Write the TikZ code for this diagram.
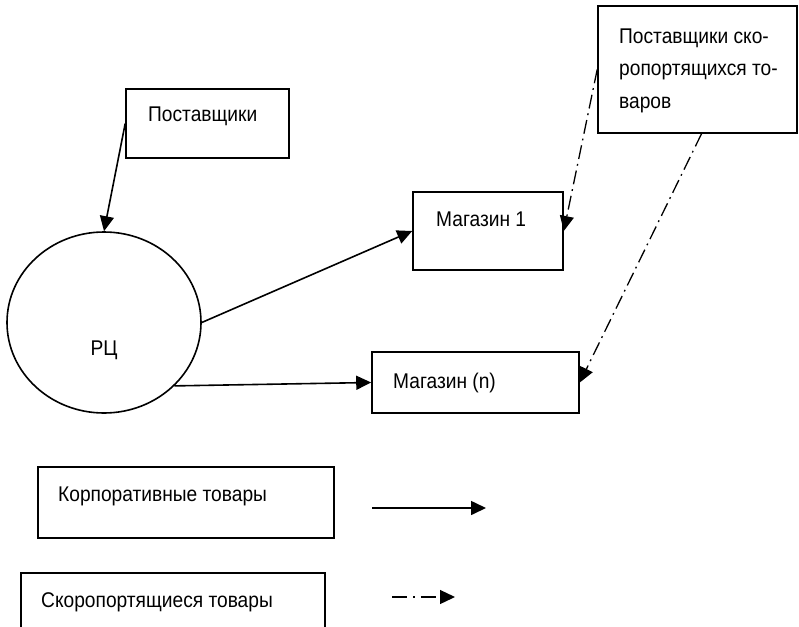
\documentclass[tikz,border=0pt]{standalone}
\usepackage{fontspec}
\setmainfont[FakeStretch=0.9]{Liberation Sans}
\usetikzlibrary{shapes.geometric,arrows.meta}
\tikzset{
  boxnode/.style={draw,rectangle,inner sep=0pt,line width=1.6pt},
  txt/.style={inner sep=0pt,anchor=base west,align=left,font=\fontsize{21.3}{32.5}\selectfont},
  solidarrow/.style={line width=1.6pt,-{Triangle[length=15pt,width=14pt]}},
  dasharrow/.style={line width=1.3pt,dash pattern=on 14pt off 5pt on 1.8pt off 5pt,-{Triangle[length=15pt,width=14pt]}},
}
\begin{document}
\begin{tikzpicture}[x=1pt,y=-1pt]
\useasboundingbox (0,0) rectangle (799,626);
% boxes
\node[boxnode,minimum width=163pt,minimum height=69pt] (sup) at (207.5,123.5) {};
\node[draw,ellipse,line width=1.6pt,inner sep=0pt,minimum width=194pt,minimum height=181pt] (rc) at (104,322.5) {};
\node[boxnode,minimum width=150pt,minimum height=78pt] (m1) at (488,231) {};
\node[boxnode,minimum width=207pt,minimum height=61pt] (mn) at (475.5,382.5) {};
\node[boxnode,minimum width=199pt,minimum height=127pt] (ps) at (697.5,69.5) {};
\node[boxnode,minimum width=296pt,minimum height=71pt] (lg1) at (186,502.5) {};
\node[boxnode,minimum width=304pt,minimum height=62pt] (lg2) at (173,604) {};
% texts
\node[txt] (tsup) at (148,121) {Поставщики};
\node[txt,anchor=base] (trc) at (104,355) {РЦ};
\node[txt] (tm1) at (436,226) {Магазин 1};
\node[txt] (tmn) at (393,388) {Магазин (n)};
\node[txt] (tps) at (619,108) {Поставщики ско-\\ропортящихся то-\\варов};
\node[txt] (tlg1) at (58,501) {Корпоративные товары};
\node[txt] (tlg2) at (41,607) {Скоропортящиеся товары};
% connectors
\draw[solidarrow] (sup.west) -- (rc.north);
\draw[solidarrow] (rc.east) -- (m1.west);
\draw[solidarrow] (rc.-42) -- (mn.west);
\draw[dasharrow] (ps.west) -- (m1.east);
\draw[dasharrow] ([xshift=4pt]ps.south) -- (mn.east);
% legend arrows
\coordinate (l1a) at (372,508);
\coordinate (l1b) at (486,508);
\coordinate (l2a) at (392,597);
\coordinate (l2b) at (455,597);
\draw[solidarrow] (l1a) -- (l1b);
\draw[line width=1.3pt,dash pattern=on 15pt off 6pt on 1.8pt off 6pt,-{Triangle[length=15pt,width=14pt]}] (l2a) -- (l2b);
\end{tikzpicture}
\end{document}
